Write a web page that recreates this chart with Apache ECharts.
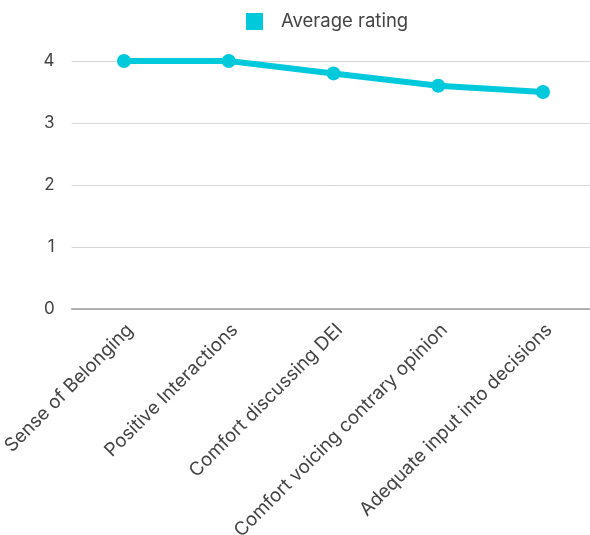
<!DOCTYPE html>
<html><head><meta charset="utf-8">
<script src="https://cdn.jsdelivr.net/npm/echarts@6/dist/echarts.min.js"></script>
<style>html,body{margin:0;padding:0;background:#fff}#c{width:590px;height:535px}</style>
</head><body><div id="c"></div>
<script>
const categories = ["Sense of Belonging","Positive Interactions","Comfort discussing DEI","Comfort voicing contrary opinion","Adequate input into decisions"];
const avgRating = [4, 4, 3.8, 3.6, 3.5];
const yTicks = [0, 1, 2, 3, 4];
const chart = echarts.init(document.getElementById('c'));
const font = "Inter, 'Noto Sans', sans-serif";
chart.setOption({
  animation: false,
  legend: {
    top: 12, left: 246, padding: 0, itemWidth: 17, itemHeight: 17,
    icon: 'rect',
    textStyle: {fontSize: 18.5, color: '#444', fontFamily: font, padding:[0,0,0,13]},
    data: ['Average rating']
  },
  grid: {left: 71.6, right: -5.4, top: 61, bottom: 226, containLabel: false, outerBoundsMode: 'none'},
  xAxis: {
    type: 'category', data: categories, boundaryGap: true,
    axisLine: {show: true, lineStyle: {color: '#9e9e9e', width: 1.5}},
    axisTick: {show: false},
    axisLabel: {
      rotate: 45, interval: 0, margin: 12,
      formatter: v => '{a|' + v + '}',
      rich: {a: {fontSize: 18.8, color: '#444', fontFamily: font, padding: [17, 0, 0, 0]}}
    }
  },
  yAxis: {
    type: 'value', min: yTicks[0], max: yTicks[yTicks.length-1], interval: 1,
    axisLine: {show: false}, axisTick: {show: false},
    axisLabel: {fontSize: 17, color: '#444', fontFamily: font, margin: 17},
    splitLine: {lineStyle: {color: '#d6d6d6', width: 1}}
  },
  series: [{
    name: 'Average rating', type: 'line', data: avgRating,
    color: '#00c9dc',
    lineStyle: {width: 6, color: '#00c9dc'},
    symbol: 'circle', symbolSize: 14,
    itemStyle: {color: '#00c9dc'}
  }]
});
</script></body></html>
